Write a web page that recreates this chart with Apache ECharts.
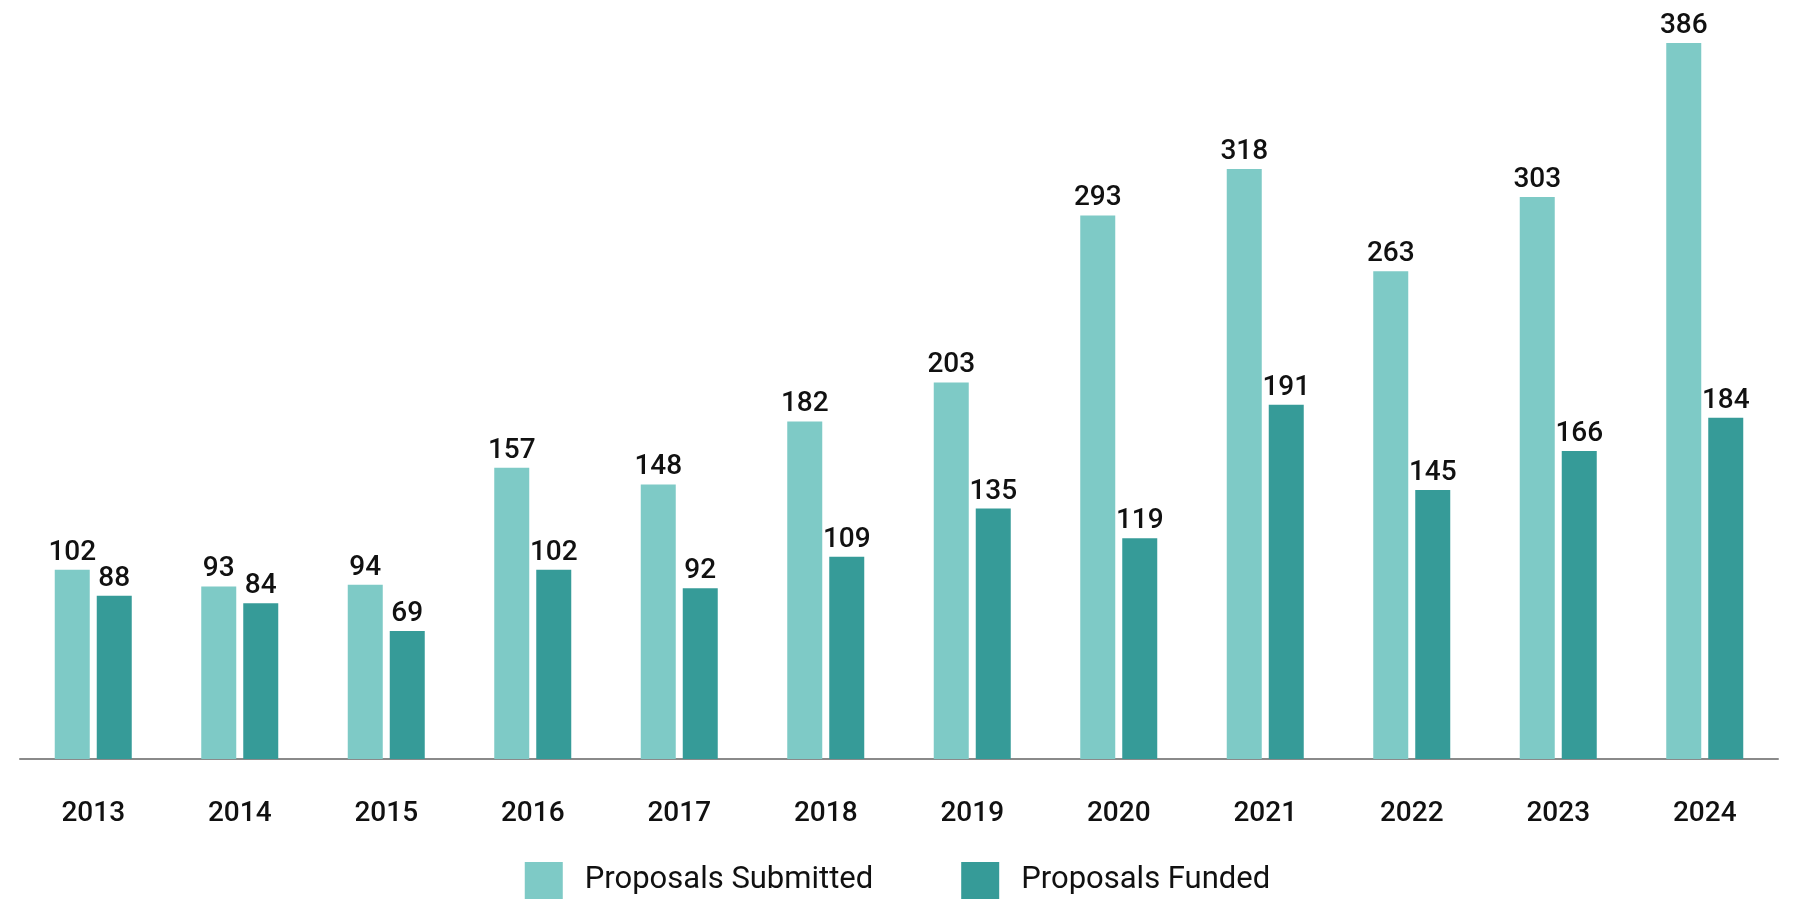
<!DOCTYPE html>
<html>
<head>
<meta charset="utf-8">
<script src="https://cdn.jsdelivr.net/npm/echarts@6/dist/echarts.min.js"></script>
<style>
  html, body { margin: 0; padding: 0; background: #fff; }
  #chart { width: 1795px; height: 899px; }
</style>
</head>
<body>
<div id="chart"></div>
<script>
const years = ['2013', '2014', '2015', '2016', '2017', '2018', '2019', '2020', '2021', '2022', '2023', '2024']
const submitted = [102, 93, 94, 157, 148, 182, 203, 293, 318, 263, 303, 386]
const funded = [88, 84, 69, 102, 92, 109, 135, 119, 191, 145, 166, 184]

const font = 'Roboto, "Noto Sans", sans-serif'
const chart = echarts.init(document.getElementById('chart'))

const labelStyle = {
  show: true,
  position: 'top',
  distance: 3,
  color: '#111',
  fontSize: 28,
  fontWeight: 500,
  fontFamily: font
}

chart.setOption({
  animation: false,
  textStyle: { fontFamily: font },
  legend: {
    data: ['Proposals Submitted', 'Proposals Funded'],
    left: 'center',
    top: 862,
    padding: 0,
    itemWidth: 38,
    itemHeight: 37,
    itemGap: 88,
    icon: 'rect',
    textStyle: {
      fontSize: 31,
      color: '#111',
      fontFamily: font,
      padding: [8, 0, 0, 17]
    }
  },
  grid: {
    left: 20,
    right: 17,
    top: 17,
    bottom: 140,
    containLabel: false
  },
  xAxis: {
    type: 'category',
    data: years,
    axisLine: { lineStyle: { color: '#8a8a8a', width: 2 } },
    axisTick: { show: false },
    axisLabel: {
      margin: 41,
      fontSize: 28,
      fontWeight: 500,
      color: '#111',
      fontFamily: font
    }
  },
  yAxis: {
    type: 'value',
    min: 0,
    max: 400,
    show: false,
    splitLine: { show: false }
  },
  series: [
    {
      name: 'Proposals Submitted',
      type: 'bar',
      data: submitted,
      barWidth: 35,
      barGap: '20%',
      itemStyle: { color: '#7ecac6' },
      label: labelStyle
    },
    {
      name: 'Proposals Funded',
      type: 'bar',
      data: funded,
      barWidth: 35,
      barGap: '20%',
      itemStyle: { color: '#369b98' },
      label: labelStyle
    }
  ]
})
</script>
</body>
</html>
